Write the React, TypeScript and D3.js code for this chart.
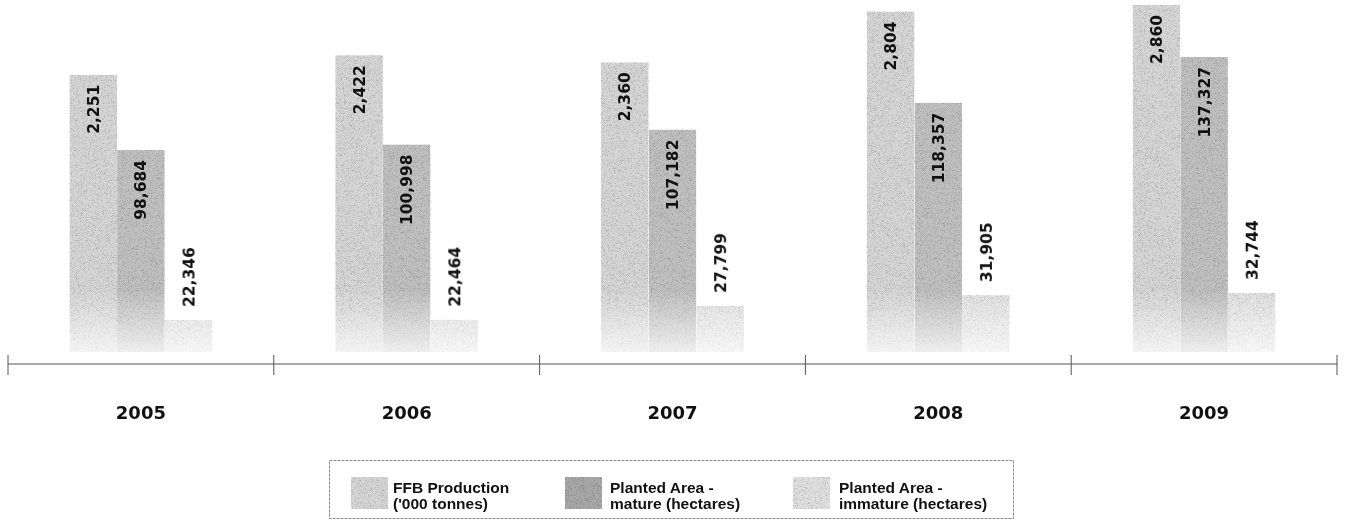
import React from "react";
import * as d3 from "d3";

const years = ["2005", "2006", "2007", "2008", "2009"];
const ffbProduction = [2251, 2422, 2360, 2804, 2860];
const plantedMature = [98684, 100998, 107182, 118357, 137327];
const plantedImmature = [22346, 22464, 27799, 31905, 32744];
const seriesKeys = ["ffb", "mature", "immature"];
const legendLines = [
  ["FFB Production", "('000 tonnes)"],
  ["Planted Area -", "mature (hectares)"],
  ["Planted Area -", "immature (hectares)"],
];

const W = 1346;
const H = 529;
const BASE = 352;
const AXIS_Y = 364;

const colors: Record<string, string> = {
  ffb: "#d6d6d6",
  mature: "#c0c0c0",
  immature: "#e0e0e0",
};

export default function App() {
  const x = d3.scaleBand<string>().domain(years).range([8, 1337]).padding(0);
  const xi = d3
    .scaleBand<string>()
    .domain(seriesKeys)
    .range([0, x.bandwidth()])
    .paddingInner(0)
    .paddingOuter(1.29);

  const yScales: Record<string, d3.ScaleLinear<number, number>> = {
    ffb: d3.scaleLinear().domain([-168, 2860]).range([BASE, 5]),
    mature: d3.scaleLinear().domain([14750, 137327]).range([BASE, 57]),
    immature: d3.scaleLinear().domain([10000, 32744]).range([BASE, 293]),
  };
  const values: Record<string, number[]> = {
    ffb: ffbProduction,
    mature: plantedMature,
    immature: plantedImmature,
  };
  const fmt = d3.format(",");
  const ticks = d3.range(years.length + 1).map((i) =>
    i < years.length ? (x(years[i]) as number) : (x(years[years.length - 1]) as number) + x.bandwidth()
  );

  const legendSwatchX = [351, 565, 793];
  const legendTextX = [393, 610, 839];

  return (
    <div style={{ position: "absolute", left: 0, top: 0 }}>
      <svg width={W} height={H} style={{ display: "block", background: "#fff" }}>
        <defs>
          <filter id="grain" x="0" y="0" width="100%" height="100%">
            <feTurbulence type="fractalNoise" baseFrequency="1.4" numOctaves="1" seed="3" result="n" />
            <feColorMatrix in="n" type="saturate" values="0" result="g" />
            <feComponentTransfer in="g" result="g2">
              <feFuncR type="linear" slope="1.7" intercept="0.12" />
              <feFuncG type="linear" slope="1.7" intercept="0.12" />
              <feFuncB type="linear" slope="1.7" intercept="0.12" />
              <feFuncA type="linear" slope="0" intercept="1" />
            </feComponentTransfer>
            <feBlend in="SourceGraphic" in2="g2" mode="multiply" result="b" />
            <feComposite in="b" in2="SourceGraphic" operator="in" />
          </filter>
          <linearGradient id="fadeGrad" gradientUnits="userSpaceOnUse" x1="0" y1="290" x2="0" y2={BASE}>
            <stop offset="0" stopColor="#fff" stopOpacity="1" />
            <stop offset="1" stopColor="#fff" stopOpacity="0.25" />
          </linearGradient>
          <mask id="fade" maskUnits="userSpaceOnUse" x="0" y="0" width={W} height={H}>
            <rect x="0" y="0" width={W} height={H} fill="url(#fadeGrad)" />
          </mask>
        </defs>

        {/* bars */}
        <g mask="url(#fade)">
          {years.map((yr, i) => (
            <g key={yr} transform={`translate(${x(yr)},0)`}>
              {seriesKeys.map((k) => {
                const y = yScales[k](values[k][i]);
                return (
                  <rect
                    key={k}
                    x={xi(k)}
                    y={y}
                    width={xi.bandwidth()}
                    height={BASE - y}
                    fill={colors[k]}
                    filter="url(#grain)"
                  />
                );
              })}
            </g>
          ))}
        </g>

        {/* value labels */}
        {years.map((yr, i) => (
          <g key={yr + "l"} transform={`translate(${x(yr)},0)`}>
            {seriesKeys.map((k) => {
              const y = yScales[k](values[k][i]);
              const cx = (xi(k) as number) + xi.bandwidth() / 2;
              const inside = k !== "immature";
              const ty = inside ? y + 10 : y - 13;
              return (
                <text
                  key={k}
                  transform={`translate(${cx},${ty}) rotate(-90)`}
                  textAnchor={inside ? "end" : "start"}
                  dy="0.36em"
                  fontFamily="'DejaVu Sans', sans-serif"
                  fontWeight="bold"
                  fontSize={15.5}
                  fill="#111"
                >
                  {fmt(values[k][i])}
                </text>
              );
            })}
          </g>
        ))}

        {/* axis */}
        <line x1={ticks[0]} x2={ticks[ticks.length - 1]} y1={AXIS_Y} y2={AXIS_Y} stroke="#555" strokeWidth={1} />
        {ticks.map((t, i) => (
          <line key={i} x1={t} x2={t} y1={355} y2={375} stroke="#555" strokeWidth={1} />
        ))}
        {years.map((yr) => (
          <text
            key={yr + "y"}
            x={(x(yr) as number) + x.bandwidth() / 2}
            y={419}
            textAnchor="middle"
            fontFamily="'DejaVu Sans', sans-serif"
            fontWeight="bold"
            fontSize={18}
            fill="#111"
          >
            {yr}
          </text>
        ))}

        {/* legend */}
        <rect x={329.5} y={460.5} width={684} height={58} fill="none" stroke="#8a8a8a" strokeWidth={1} strokeDasharray="3 1" />
        {seriesKeys.map((k, i) => (
          <g key={k + "leg"}>
            <rect x={legendSwatchX[i]} y={477} width={37} height={32} fill={k === "mature" ? "#a8a8a8" : colors[k]} filter="url(#grain)" />
            {legendLines[i].map((ln, j) => (
              <text
                key={j}
                x={legendTextX[i]}
                y={493 + j * 16}
                fontFamily="'Liberation Sans', Arial, sans-serif"
                fontWeight="bold"
                fontSize={15.5}
                fill="#111"
              >
                {ln}
              </text>
            ))}
          </g>
        ))}
      </svg>
    </div>
  );
}
